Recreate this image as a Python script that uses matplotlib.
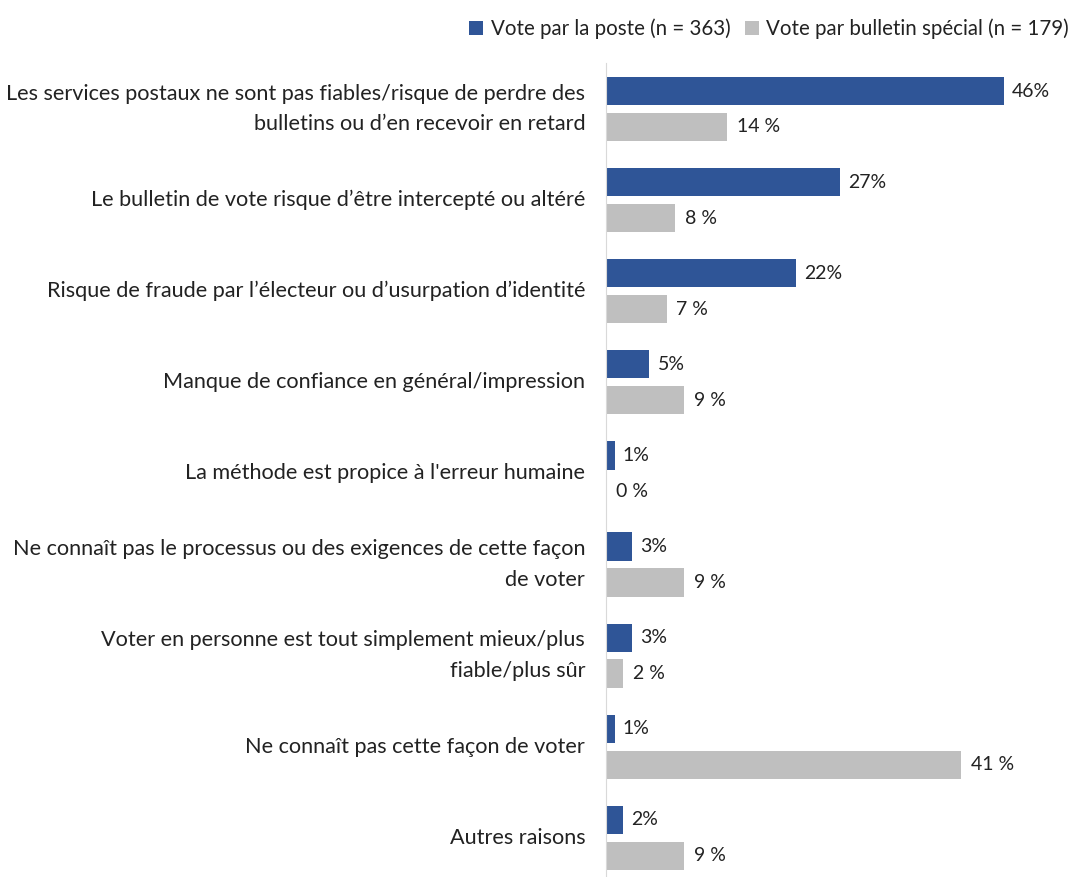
import matplotlib.pyplot as plt
import numpy as np

categories = [
    "Les services postaux ne sont pas fiables/risque de perdre des\nbulletins ou d\u2019en recevoir en retard",
    "Le bulletin de vote risque d\u2019\u00eatre intercept\u00e9 ou alt\u00e9r\u00e9",
    "Risque de fraude par l\u2019\u00e9lecteur ou d\u2019usurpation d\u2019identit\u00e9",
    "Manque de confiance en g\u00e9n\u00e9ral/impression",
    "La m\u00e9thode est propice \u00e0 l'erreur humaine",
    "Ne conna\u00eet pas le processus ou des exigences de cette fa\u00e7on\nde voter",
    "Voter en personne est tout simplement mieux/plus\nfiable/plus s\u00fbr",
    "Ne conna\u00eet pas cette fa\u00e7on de voter",
    "Autres raisons",
]
poste = [46, 27, 22, 5, 1, 3, 3, 1, 2]
special = [14, 8, 7, 9, 0, 9, 2, 41, 9]
series_names = ["Vote par la poste (n = 363)", "Vote par bulletin sp\u00e9cial (n = 179)"]

blue = "#2F5597"
grey = "#BFBFBF"
plt.rcParams['font.family'] = ['Lato', 'DejaVu Sans']

W, H = 1084, 877
fig = plt.figure(figsize=(W / 100, H / 100), dpi=100)
ax = fig.add_axes([606 / W, 0, (1060 - 606) / W, (H - 63) / H])

y = np.arange(len(categories))
h = 0.31
off = 0.197
b1 = ax.barh(y - off, poste, height=h, color=blue, label=series_names[0])
b2 = ax.barh(y + off, special, height=h, color=grey, label=series_names[1])

for yi, v in zip(y, poste):
    ax.text(v + 0.95, yi - off, f"{v}%", va='center', ha='left', fontsize=14, color='#222222')
for yi, v in zip(y, special):
    ax.text(v + 1.15, yi + off, f"{v} %", va='center', ha='left', fontsize=14, color='#222222')

ax.set_xlim(0, (1060 - 606) / 8.65)
ax.set_ylim(8.43, -0.505)
ax.set_yticks(y)
ax.set_yticklabels(categories, fontsize=15.6, color='#222222', linespacing=1.65,
                   va='center')
ax.tick_params(axis='y', length=0, pad=15)
ax.set_xticks([])
for s in ['top', 'right', 'bottom']:
    ax.spines[s].set_visible(False)
ax.spines['left'].set_color('#D9D9D9')

fig.legend(handles=[b1, b2], loc='upper right', bbox_to_anchor=(1.003, 1.0), ncol=2, frameon=False,
           fontsize=14.8, handlelength=0.7, handleheight=0.7, handletextpad=0.35, columnspacing=0.7,
           labelcolor='#222222')

fig.savefig("out.png", dpi=100)
